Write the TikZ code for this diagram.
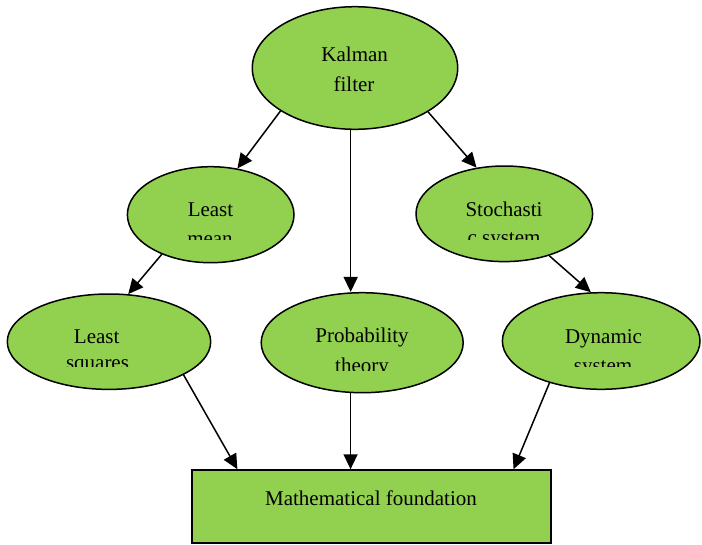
\documentclass[tikz,border=0pt]{standalone}
\usepackage{fontspec}
\setmainfont{Liberation Serif}
\usetikzlibrary{shapes.geometric,arrows.meta,calc}
\definecolor{leaf}{RGB}{146,208,80}
\tikzset{
  bubble/.style={ellipse, draw=black, fill=leaf, line width=1.5pt, inner sep=0pt},
  basebox/.style={rectangle, draw=black, fill=leaf, line width=1.5pt, inner sep=0pt},
  lbl/.style={anchor=base, inner sep=0pt, font=\fontsize{21}{30}\selectfont},
  arr/.style={line width=1.5pt, -{Triangle[length=15pt,width=14pt]}}
}
\begin{document}
\begin{tikzpicture}[x=1pt,y=-1pt]
\useasboundingbox (0,0) rectangle (702,544);
% shapes
\node[bubble, minimum width=205.4pt, minimum height=122.6pt] (kf) at (355,68) {};
\node[bubble, minimum width=166.6pt, minimum height=96pt] (lm) at (210.7,214.7) {};
\node[bubble, minimum width=176.6pt, minimum height=95.6pt] (st) at (504.3,213.8) {};
\node[bubble, minimum width=203.4pt, minimum height=95.4pt] (ls) at (109,341.7) {};
\node[bubble, minimum width=202pt, minimum height=100pt] (pt) at (362.2,342.7) {};
\node[bubble, minimum width=197.6pt, minimum height=96.6pt] (dy) at (601.2,341) {};
\node[basebox, minimum width=359pt, minimum height=73pt] (mf) at (371.5,506.5) {};
% labels
\node[lbl] (kf1) at (354.7,61.7) {Kalman};
\node[lbl] (kf2) at (354,91.7) {filter};
\node[lbl] (lm1) at (210.5,216.7) {Least};
\node[lbl] (st1) at (504,216.7) {Stochasti};
\node[lbl] (ls1) at (96.7,343.3) {Least};
\node[lbl] (pt1) at (362,342.5) {Probability};
\node[lbl] (dy1) at (603.5,343.3) {Dynamic};
\node[lbl] (mf1) at (371,505) {Mathematical foundation};
\begin{scope}
  \clip (110,220) rectangle (310,239.3);
  \node[lbl] (lm2) at (210,245.5) {mean};
\end{scope}
\begin{scope}
  \clip (404,220) rectangle (604,239.3);
  \node[lbl] (st2) at (504,244.5) {c system};
\end{scope}
\begin{scope}
  \clip (0,348) rectangle (200,366);
  \node[lbl] (ls2) at (97.5,369.5) {squares};
\end{scope}
\begin{scope}
  \clip (262,348) rectangle (462,370);
  \node[lbl] (pt2) at (362,372.5) {theory};
\end{scope}
\begin{scope}
  \clip (503,348) rectangle (700,366);
  \node[lbl] (dy2) at (603,372) {system};
\end{scope}
% connectors
\draw[arr] (kf.210.7) -- (lm.60);
\draw[arr] (kf.266) -- (kf.266 |- pt.north);
\draw[arr] (kf.329.6) -- (st.121.3);
\draw[arr] (lm.219) -- (ls.68.7);
\draw[arr] (st.317.8) -- (dy.102.6);
\draw[arr] (ls.336) -- ($(mf.north west)!0.128!(mf.north east)$);
\draw[arr] (pt.257.5) -- (pt.257.5 |- mf.north);
\draw[arr] (dy.219.4) -- ($(mf.north west)!0.894!(mf.north east)$);
\end{tikzpicture}
\end{document}
